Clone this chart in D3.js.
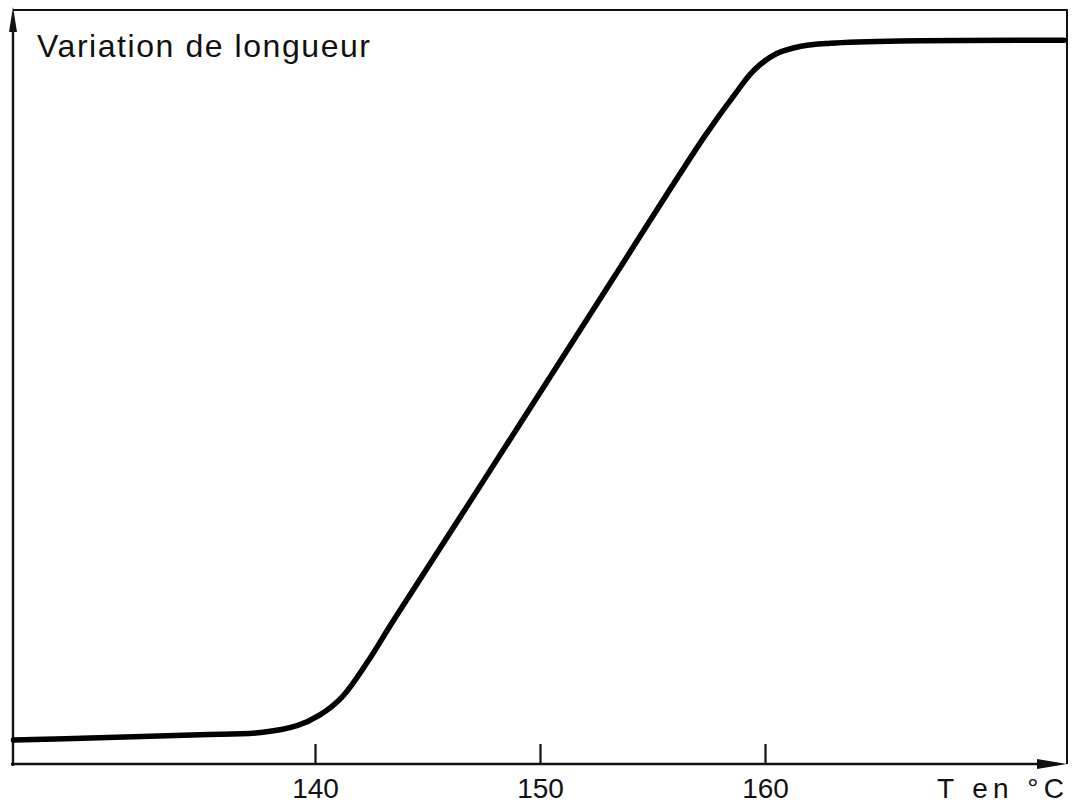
<!DOCTYPE html>
<html><head><meta charset="utf-8">
<script src="https://cdn.jsdelivr.net/npm/d3@7"></script>
<style>body{margin:0;background:#fff}svg{display:block}</style>
</head><body>
<script>
const temps = [126.6,130.4,134.9,137.6,139.2,140.2,141.2,142.3,143.5,147.5,153.2,157.3,158.7,159.5,160.5,161.6,162.9,166.0,173.3];
const lengths = [3.3,3.6,4.0,4.3,5.2,6.6,9.0,13.5,19.2,37.7,64.2,83.2,89.0,92.0,94.2,95.2,95.6,95.9,96.0];
const tickValues = [140,150,160];
const yTitle = "Variation de longueur";
const xTitle = "T en °C";

(function(){
const W = 1073, H = 807;
const fl = 13, fr = 1067, ft = 10, fb = 764;
const svg = d3.select("body").append("svg").attr("width", W).attr("height", H);

const x = d3.scaleLinear().domain([140,160]).range([315,765]);
const y = d3.scaleLinear().domain([0,100]).range([765,10]);

const font = "'Liberation Sans', Arial, sans-serif";

svg.append("path").attr("d", `M${fl},${ft}L${fr},${ft}L${fr},${fb}`)
  .attr("fill","none").attr("stroke","#111").attr("stroke-width",2);
svg.append("line").attr("x1",fl).attr("x2",fl).attr("y1",fb+2).attr("y2",ft+10)
  .attr("stroke","#111").attr("stroke-width",2.4);
svg.append("path").attr("d",`M${fl},${ft-3}L${fl-4},${ft+22}L${fl+4},${ft+22}Z`).attr("fill","#111");
svg.append("line").attr("x1",fl-2).attr("x2",fr-10).attr("y1",fb).attr("y2",fb)
  .attr("stroke","#111").attr("stroke-width",2.4);
svg.append("path").attr("d",`M${fr},${fb}L${fr-30},${fb-5}L${fr-30},${fb+5}Z`).attr("fill","#111");

const ax = d3.axisBottom(x).tickValues(tickValues).tickSizeInner(-20).tickSizeOuter(0).tickPadding(14).tickFormat(d3.format("d"));
const g = svg.append("g").attr("transform",`translate(0,${fb})`).call(ax);
g.select(".domain").remove();
g.selectAll(".tick line").attr("stroke","#111").attr("stroke-width",2.2);
g.selectAll(".tick text").attr("font-family",font).attr("font-size",28).attr("fill","#111");

const line = d3.line().x((d,i)=>x(temps[i])).y((d,i)=>y(lengths[i])).curve(d3.curveCatmullRom.alpha(0.5));
svg.append("path").datum(lengths).attr("d",line).attr("fill","none")
  .attr("stroke","#000").attr("stroke-width",5.5).attr("stroke-linecap","round");

svg.append("text").attr("x",37).attr("y",57).attr("font-family",font).attr("font-size",32)
  .attr("fill","#111").attr("textLength",333).attr("lengthAdjust","spacing").text(yTitle);
svg.append("text").attr("x",937).attr("y",798).attr("font-family",font).attr("font-size",28)
  .attr("fill","#111").attr("textLength",127).attr("lengthAdjust","spacing").text(xTitle);
})();
</script>
</body></html>
